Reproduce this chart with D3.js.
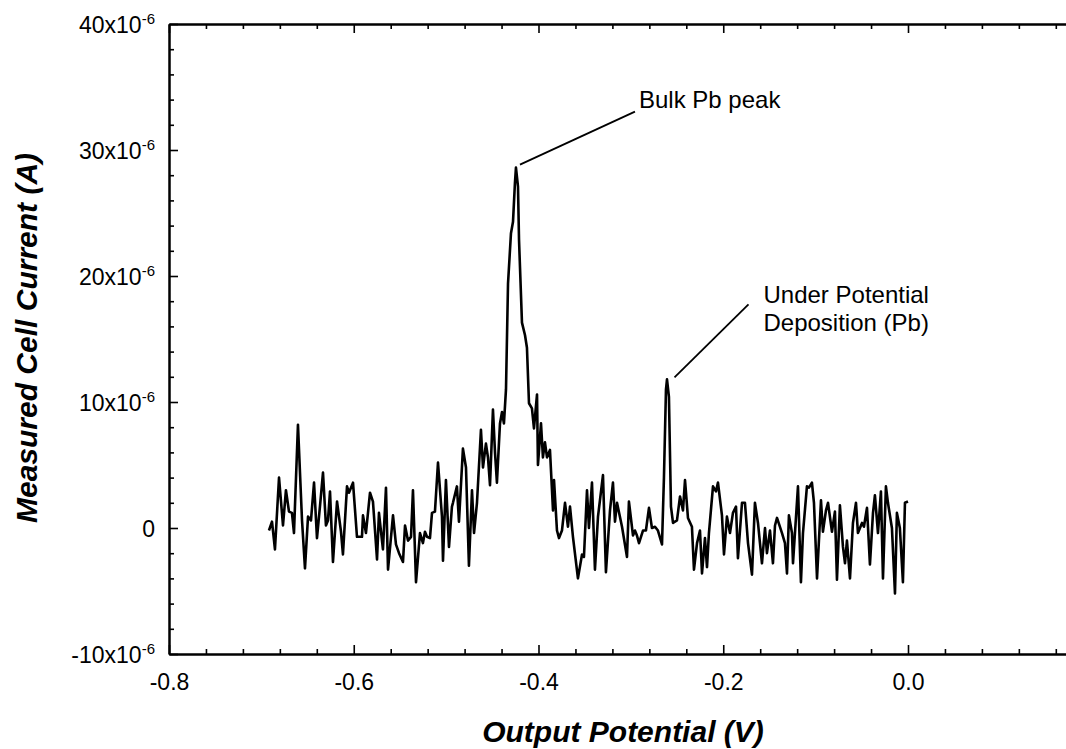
<!DOCTYPE html>
<html>
<head>
<meta charset="utf-8">
<script src="https://cdn.jsdelivr.net/npm/d3@7"></script>
<style>
  html, body { margin: 0; padding: 0; background: #fff; }
  svg { display: block; }
  text { font-family: "Liberation Sans", Arial, sans-serif; fill: #000; }
</style>
</head>
<body>
<svg id="chart" width="1066" height="749"></svg>
<script>
// Output potential (V) of each sample in the stripping sweep
const potential = [
  -0.6918, -0.6885, -0.6853, -0.6809, -0.6766, -0.6734, -0.6701, -0.6669, -0.6647, -0.6604,
  -0.6560, -0.6528, -0.6495, -0.6463, -0.6430, -0.6398, -0.6366, -0.6333, -0.6301, -0.6279,
  -0.6257, -0.6225, -0.6181, -0.6138, -0.6117, -0.6073, -0.6052, -0.6008, -0.5965, -0.5911,
  -0.5900, -0.5868, -0.5824, -0.5792, -0.5748, -0.5727, -0.5684, -0.5651, -0.5629, -0.5575,
  -0.5543, -0.5510, -0.5467, -0.5445, -0.5413, -0.5380, -0.5359, -0.5326, -0.5283, -0.5251,
  -0.5229, -0.5207, -0.5175, -0.5153, -0.5121, -0.5088, -0.5045, -0.5034, -0.5002, -0.4969,
  -0.4937, -0.4926, -0.4883, -0.4861, -0.4818, -0.4785, -0.4753, -0.4720, -0.4698, -0.4666,
  -0.4623, -0.4601, -0.4569, -0.4547, -0.4525, -0.4493, -0.4471, -0.4450, -0.4417, -0.4395,
  -0.4374, -0.4352, -0.4330, -0.4298, -0.4276, -0.4255, -0.4244, -0.4222, -0.4211, -0.4179,
  -0.4146, -0.4125, -0.4103, -0.4071, -0.4049, -0.4016, -0.4006, -0.3973, -0.3952, -0.3930,
  -0.3908, -0.3876, -0.3843, -0.3832, -0.3800, -0.3778, -0.3746, -0.3713, -0.3681, -0.3659,
  -0.3627, -0.3573, -0.3529, -0.3508, -0.3475, -0.3454, -0.3421, -0.3389, -0.3356, -0.3302,
  -0.3270, -0.3226, -0.3194, -0.3172, -0.3150, -0.3096, -0.3042, -0.3021, -0.2977, -0.2956,
  -0.2934, -0.2912, -0.2869, -0.2837, -0.2804, -0.2772, -0.2739, -0.2707, -0.2663, -0.2642,
  -0.2620, -0.2609, -0.2588, -0.2566, -0.2544, -0.2501, -0.2468, -0.2436, -0.2414, -0.2382,
  -0.2339, -0.2317, -0.2284, -0.2252, -0.2230, -0.2198, -0.2176, -0.2155, -0.2111, -0.2079,
  -0.2057, -0.2014, -0.1992, -0.1960, -0.1927, -0.1895, -0.1862, -0.1841, -0.1797, -0.1765,
  -0.1732, -0.1689, -0.1657, -0.1624, -0.1581, -0.1548, -0.1527, -0.1494, -0.1462, -0.1440,
  -0.1418, -0.1364, -0.1332, -0.1310, -0.1289, -0.1256, -0.1245, -0.1191, -0.1159, -0.1137,
  -0.1094, -0.1072, -0.1040, -0.1018, -0.0985, -0.0942, -0.0921, -0.0888, -0.0866, -0.0823,
  -0.0791, -0.0769, -0.0737, -0.0704, -0.0682, -0.0661, -0.0628, -0.0596, -0.0563, -0.0542,
  -0.0498, -0.0477, -0.0444, -0.0412, -0.0379, -0.0358, -0.0325, -0.0293, -0.0271, -0.0239,
  -0.0217, -0.0174, -0.0141, -0.0120, -0.0088, -0.0055, -0.0033, 0.0000
];

// Measured cell current at each potential, in units of 10^-6 A
const current = [
  -0.2, 0.5, -1.7, 4.0, 0.2, 3.0, 1.3, 1.2, -0.4, 8.2,
  0.6, -3.2, 0.9, 0.6, 3.6, -0.8, 1.7, 4.4, 0.2, 0.6,
  2.9, -2.7, 2.1, -0.3, -2.1, 3.3, 2.8, 3.6, -0.7, -0.7,
  1.0, -0.4, 2.8, 2.1, -2.5, 1.2, -1.7, 3.2, -3.3, 1.0,
  -1.3, -2.0, -2.7, 0.2, -1.0, -0.7, 3.0, -4.3, -0.4, -1.2,
  -0.3, -0.7, -0.8, 1.2, 1.3, 5.2, 0.9, -2.6, 3.8, -1.5,
  1.7, 2.0, 3.3, 0.5, 6.3, 4.8, -3.0, 3.0, -0.4, 2.0,
  7.8, 4.8, 6.7, 5.6, 3.4, 9.4, 6.0, 3.6, 8.3, 9.2,
  8.3, 11.0, 19.4, 23.4, 24.3, 27.4, 28.6, 27.1, 22.9, 16.3,
  15.3, 14.3, 9.9, 9.5, 7.9, 10.6, 5.0, 8.3, 5.6, 6.8,
  5.6, 6.2, 1.4, 3.8, -0.2, -0.8, -0.2, 2.0, 0.1, 1.7,
  -0.7, -4.0, -2.1, -2.3, 3.0, 0.0, 3.6, -3.3, 0.9, 4.2,
  -3.5, 1.4, 3.6, 0.5, 2.0, 0.1, -2.3, 2.1, -0.6, -0.2,
  -0.6, -1.2, -0.2, -0.2, 1.6, 0.0, 0.1, -0.2, -1.3, 4.0,
  11.0, 11.8, 10.4, 1.7, 0.4, 0.6, 2.5, 1.4, 3.8, 0.8,
  0.1, -3.3, -1.2, -0.2, -3.6, -0.8, -3.1, -0.4, 3.3, 2.9,
  3.6, 1.0, -2.1, 0.9, -0.4, 1.2, 1.7, -2.4, 2.0, 2.0,
  -1.2, -3.7, 2.0, 0.4, -2.8, 0.0, -2.0, -0.2, -2.8, 0.2,
  0.8, -0.4, -1.2, -3.6, 1.0, -0.4, -2.8, 3.3, -4.3, -0.4,
  3.3, 3.2, 3.6, 2.0, -4.0, 2.2, -0.3, 1.4, 2.0, -0.3,
  1.3, -4.1, 1.8, -1.5, -2.8, -1.0, -4.0, 0.4, 2.0, -0.4,
  0.4, 0.1, 1.6, -2.9, 1.2, 2.6, -0.4, 2.9, -4.0, 3.3,
  2.0, 0.0, -5.2, 1.2, 0.0, -4.3, 2.0, 2.1
];

// Axis ticks
const xTickValues = [-0.8, -0.6, -0.4, -0.2, 0.0];
const xTickLabels = ["-0.8", "-0.6", "-0.4", "-0.2", "0.0"];
const yTickValues = [-10, 0, 10, 20, 30, 40];
const yTickMantissas = ["-10", "0", "10", "20", "30", "40"];
const yTickExponent = "-6";

// Peak callouts: the labelled peak potential and the label lines
const peakPotentials = [-0.4244, -0.2609];
const peakLabels = [["Bulk Pb peak"], ["Under Potential", "Deposition (Pb)"]];

const svg = d3.select("#chart");
const plot = { left: 169, top: 24, bottom: 654, right: 1092.75 };

const x = d3.scaleLinear().domain([-0.8, 0.2]).range([plot.left, plot.right]);
const y = d3.scaleLinear().domain([-10, 40]).range([plot.bottom, plot.top]);

const xMinor = d3.range(0, 26).map(i => -0.8 + i * 0.04)
  .filter(v => !xTickValues.some(t => Math.abs(t - v) < 1e-6));
const yMinor = d3.range(0, 26).map(i => -10 + i * 2)
  .filter(v => !yTickValues.some(t => Math.abs(t - v) < 1e-6));

function styleAxis(g) {
  g.select(".domain").attr("stroke", "#000").attr("stroke-width", 2);
  g.selectAll(".tick line").attr("stroke", "#000").attr("stroke-width", 1.6);
}

// Bottom axis: labelled majors plus unlabelled minors, ticks pointing in
const gx = svg.append("g").attr("transform", `translate(0,${plot.bottom})`)
  .call(d3.axisBottom(x).tickValues(xTickValues).tickSize(-9).tickSizeOuter(0)
    .tickPadding(20).tickFormat((d, i) => xTickLabels[i]))
  .call(styleAxis);
gx.selectAll("text").attr("font-size", 23)
  .style("font-family", '"Liberation Sans", Arial, sans-serif').attr("fill", "#000");
svg.append("g").attr("transform", `translate(0,${plot.bottom})`)
  .call(d3.axisBottom(x).tickValues(xMinor).tickSize(-5).tickSizeOuter(0).tickFormat(""))
  .call(styleAxis);

// Top axis mirrors the bottom ticks
svg.append("g").attr("transform", `translate(0,${plot.top})`)
  .call(d3.axisTop(x).tickValues(xTickValues).tickSize(-9).tickSizeOuter(0).tickFormat(""))
  .call(styleAxis);
svg.append("g").attr("transform", `translate(0,${plot.top})`)
  .call(d3.axisTop(x).tickValues(xMinor).tickSize(-5).tickSizeOuter(0).tickFormat(""))
  .call(styleAxis);

// Left axis with scientific-notation labels
const gy = svg.append("g").attr("transform", `translate(${plot.left},0)`)
  .call(d3.axisLeft(y).tickValues(yTickValues).tickSize(-9).tickSizeOuter(0).tickPadding(14))
  .call(styleAxis);
svg.append("g").attr("transform", `translate(${plot.left},0)`)
  .call(d3.axisLeft(y).tickValues(yMinor).tickSize(-5).tickSizeOuter(0).tickFormat(""))
  .call(styleAxis);

gy.selectAll(".tick text").each(function (d) {
  const i = yTickValues.indexOf(d);
  const t = d3.select(this).text(null)
    .attr("font-size", 23)
    .style("font-family", '"Liberation Sans", Arial, sans-serif')
    .attr("fill", "#000")
    .attr("dy", "0.36em");
  if (d === 0) {
    t.append("tspan").text(yTickMantissas[i]);
  } else {
    t.append("tspan").text(yTickMantissas[i] + "x10");
    t.append("tspan").attr("font-size", 15).attr("dy", -9).text(yTickExponent);
  }
});

// Right axis line (sits at the far edge of the frame)
svg.append("line")
  .attr("x1", x(0.2)).attr("x2", x(0.2))
  .attr("y1", plot.top).attr("y2", plot.bottom)
  .attr("stroke", "#000").attr("stroke-width", 2);

// The current trace
const data = potential.map((p, i) => ({ p, c: current[i] }));
svg.append("path")
  .datum(data)
  .attr("fill", "none")
  .attr("stroke", "#000")
  .attr("stroke-width", 2.6)
  .attr("stroke-linejoin", "round")
  .attr("d", d3.line().x(d => x(d.p)).y(d => y(d.c)));

// Peak callouts with leader lines
const callouts = [
  { lineFrom: [4, -3], lineTo: [119, -56], text: [123, -60], lead: 28 },
  { lineFrom: [7.5, -2], lineTo: [81.5, -75], text: [96.5, -76], lead: 28 }
];
peakPotentials.forEach((pp, k) => {
  const idx = potential.indexOf(pp);
  const px = x(pp), py = y(current[idx]);
  const c = callouts[k];
  svg.append("line")
    .attr("x1", px + c.lineFrom[0]).attr("y1", py + c.lineFrom[1])
    .attr("x2", px + c.lineTo[0]).attr("y2", py + c.lineTo[1])
    .attr("stroke", "#000").attr("stroke-width", 1.8);
  const t = svg.append("text")
    .attr("x", px + c.text[0]).attr("y", py + c.text[1])
    .attr("font-size", 24);
  peakLabels[k].forEach((line, j) => {
    t.append("tspan").attr("x", px + c.text[0]).attr("y", py + c.text[1] + j * c.lead).text(line);
  });
});

// Axis titles
svg.append("text")
  .attr("x", 623).attr("y", 742)
  .attr("text-anchor", "middle")
  .attr("font-size", 30).attr("font-weight", "bold").attr("font-style", "italic")
  .text("Output Potential (V)");

svg.append("text")
  .attr("transform", "translate(37,338) rotate(-90)")
  .attr("text-anchor", "middle")
  .attr("font-size", 30).attr("font-weight", "bold").attr("font-style", "italic")
  .text("Measured Cell Current (A)");
</script>
</body>
</html>
